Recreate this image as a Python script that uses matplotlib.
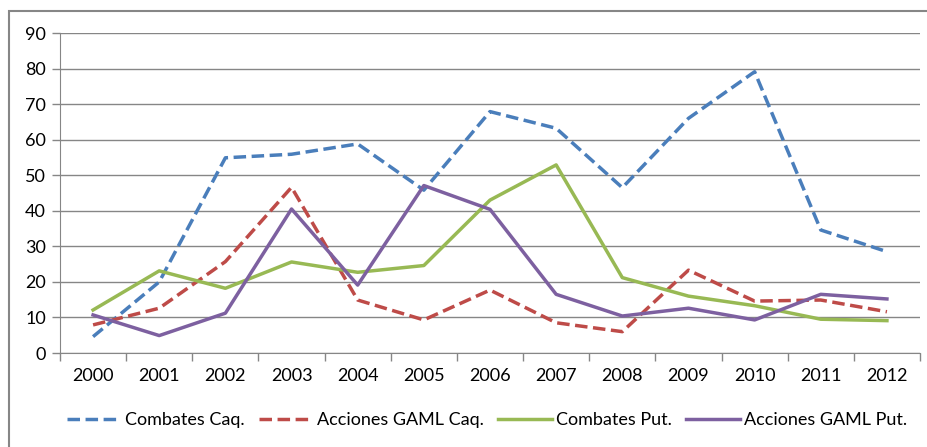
import numpy as np
import matplotlib
matplotlib.use("Agg")
import matplotlib.pyplot as plt
from matplotlib.patches import Rectangle

plt.rcParams['font.family'] = ['Lato', 'DejaVu Sans']

years = ['2000', '2001', '2002', '2003', '2004', '2005', '2006',
         '2007', '2008', '2009', '2010', '2011', '2012']

combates_caq = [4.6, 20.0, 54.9, 55.9, 58.8, 45.8, 67.9, 63.2, 46.5, 66.0, 79.1, 34.6, 28.5]
acciones_caq = [7.9, 12.6, 25.7, 46.6, 14.9, 9.3, 17.7, 8.5, 6.0, 23.3, 14.6, 14.9, 11.6]
combates_put = [12.1, 23.1, 18.2, 25.6, 22.7, 24.6, 43.0, 52.9, 21.2, 16.0, 13.3, 9.5, 9.1]
acciones_put = [10.7, 4.9, 11.2, 40.5, 19.1, 47.1, 40.4, 16.5, 10.4, 12.6, 9.3, 16.5, 15.2]

W, H = 927, 447
fig = plt.figure(figsize=(W / 100, H / 100), dpi=100)
ax = fig.add_axes([60 / W, 1 - 353 / H, 860 / W, 320 / H])

# outer chart frame
fig.patches.append(Rectangle((9 / W, -0.05), 1.2, 1 - 11 / H + 0.05,
                             transform=fig.transFigure, fill=False,
                             edgecolor='#868686', linewidth=1.5))

x = np.arange(len(years))
dash = (3.6, 1.6)
lw = 2.5
ax.plot(x, combates_caq, color='#4A7EBB', lw=lw, dashes=dash, label='Combates Caq.')
ax.plot(x, acciones_caq, color='#BE4B48', lw=lw, dashes=dash, label='Acciones GAML Caq.')
ax.plot(x, combates_put, color='#98B954', lw=lw, label='Combates Put.')
ax.plot(x, acciones_put, color='#7D60A0', lw=lw, label='Acciones GAML Put.')

ax.set_xlim(-0.5, len(years) - 0.5)
ax.set_ylim(0, 90)
ax.set_yticks(np.arange(0, 91, 10))
ax.set_xticks(x)
ax.set_xticklabels(years)
ax.set_xticks(np.arange(-0.5, len(years)), minor=True)
ax.tick_params(axis='x', which='major', length=0, pad=11, labelsize=13, colors='black')
ax.tick_params(axis='x', which='minor', length=6, color='#868686', width=1)
ax.tick_params(axis='y', length=6, color='#868686', width=1, pad=4, labelsize=13)

ax.grid(axis='y', color='#868686', linewidth=1)
ax.set_axisbelow(True)
for s in ['top', 'right']:
    ax.spines[s].set_visible(False)
ax.spines['left'].set_color('#868686')
ax.spines['bottom'].set_color('#868686')

fig.legend(loc='center', bbox_to_anchor=(487 / W, 1 - 420 / H), ncol=4, frameon=False,
           fontsize=13, handlelength=3.0, handletextpad=0.2, columnspacing=0.8)

fig.savefig('out.png', dpi=100)
